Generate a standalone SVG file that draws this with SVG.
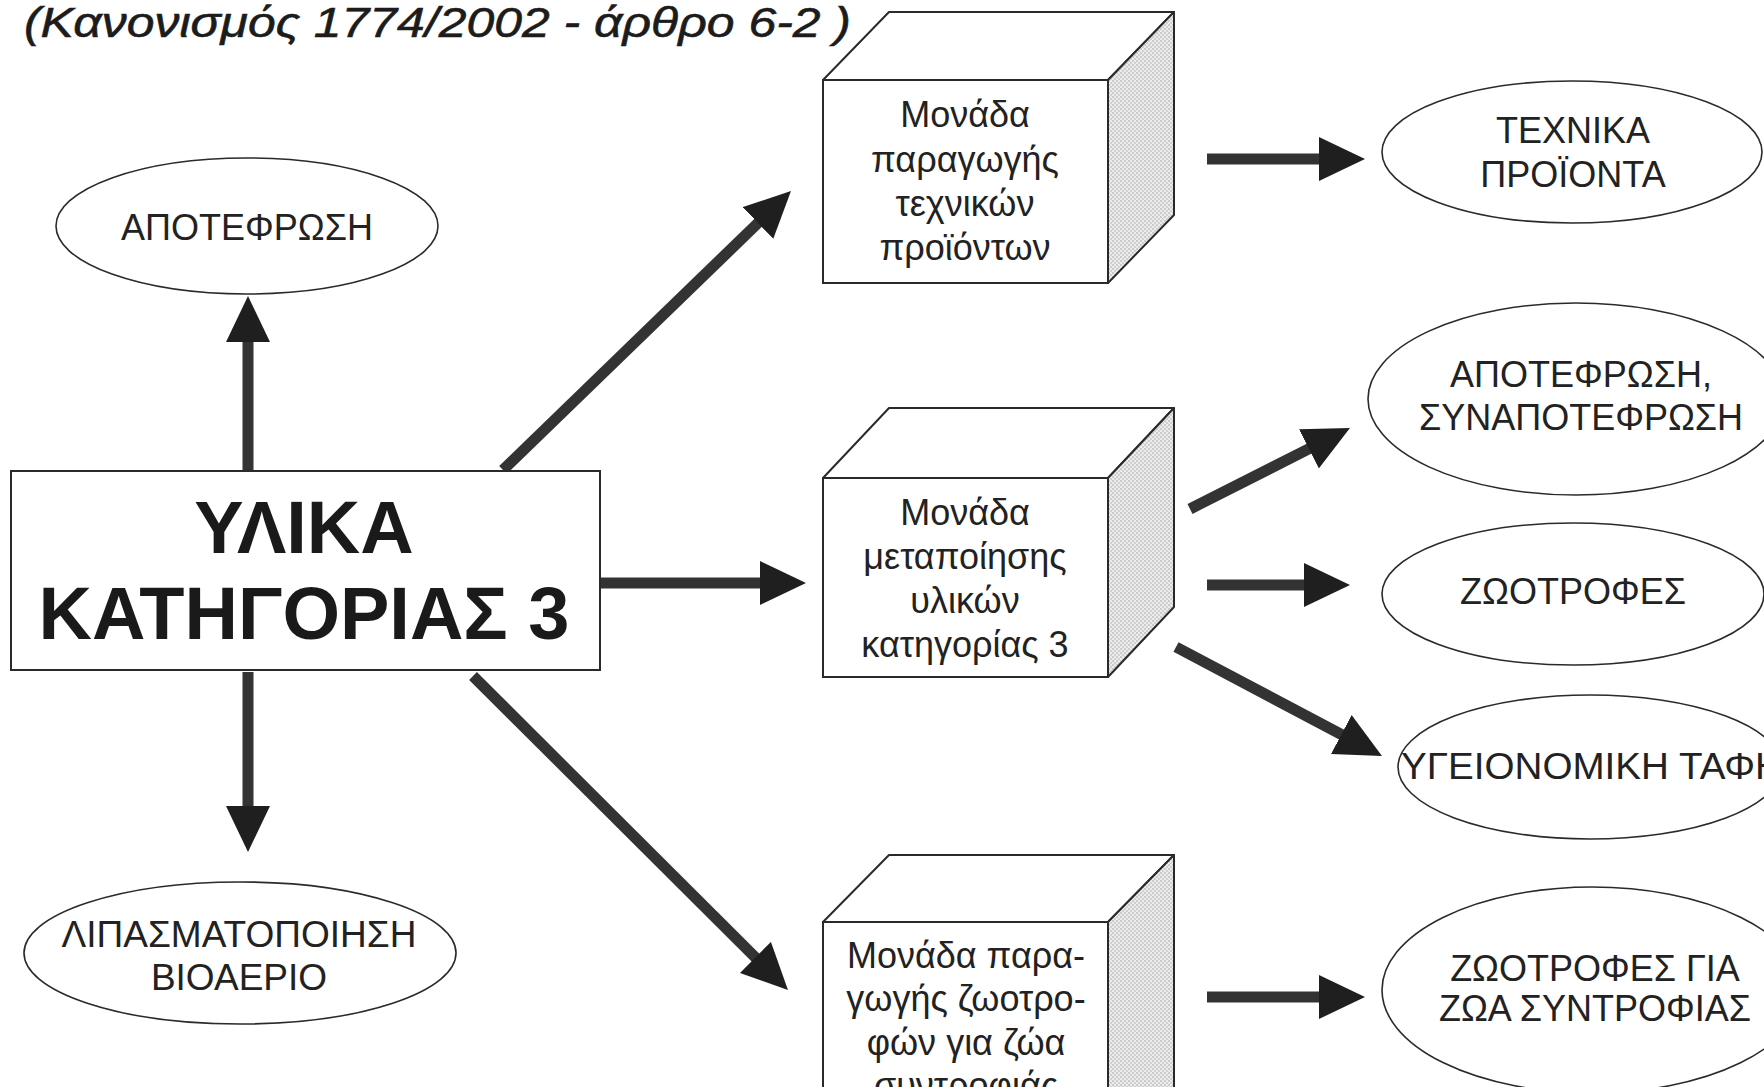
<svg xmlns="http://www.w3.org/2000/svg" width="1764" height="1092" viewBox="0 0 1764 1092">
  <style>
    .title { font-family: "Liberation Sans", Arial, sans-serif; font-style: italic; font-size: 43px; fill: #1c1c1c; stroke: #1c1c1c; stroke-width: 0.6; }
    .main { font-family: "Liberation Sans", Arial, sans-serif; font-weight: bold; font-size: 74px; fill: #1a1a1a; text-anchor: middle; }
    .lbl { font-family: "Liberation Sans", Arial, sans-serif; font-size: 36px; fill: #222; text-anchor: middle; }
    .box { fill: #ffffff; stroke: #2a2a2a; stroke-width: 2; }
    .ell { fill: none; stroke: #2a2a2a; stroke-width: 1.6; }
    .face { fill: #ffffff; stroke: #2a2a2a; stroke-width: 2; stroke-linejoin: round; }
    .side { fill: url(#stipple); stroke: #2a2a2a; stroke-width: 2; stroke-linejoin: round; }
    .shaft { stroke: #333333; stroke-width: 11; fill: none; marker-end: url(#head); }
  </style>
  <defs>
    <pattern id="stipple" width="4" height="4" patternUnits="userSpaceOnUse">
      <rect width="4" height="4" fill="#ececec"/>
      <circle cx="1" cy="1" r="0.75" fill="#9a9a9a"/>
      <circle cx="3" cy="3" r="0.75" fill="#a8a8a8"/>
    </pattern>
    <marker id="head" markerUnits="userSpaceOnUse" viewBox="0 0 46 44" markerWidth="46" markerHeight="44" refX="2" refY="22" orient="auto">
      <path d="M0,0 L46,22 L0,44 Z" fill="#1f1f1f"/>
    </marker>
    <clipPath id="page">
      <rect x="0" y="0" width="1764" height="1087"/>
    </clipPath>
  </defs>

  <rect x="0" y="0" width="1764" height="1092" fill="#ffffff"/>

  <g clip-path="url(#page)">
    <!-- heading -->
    <text class="title" x="24" y="37" textLength="827" lengthAdjust="spacingAndGlyphs">(Κανονισμός 1774/2002 - άρθρο 6-2 )</text>

    <!-- connectors -->
    <g id="connectors">
      <line class="shaft" x1="248" y1="471" x2="248" y2="340"/>
      <line class="shaft" x1="248" y1="672" x2="248" y2="808"/>
      <line class="shaft" x1="503" y1="470" x2="759.4" y2="221.6"/>
      <line class="shaft" x1="601" y1="583" x2="762" y2="583"/>
      <line class="shaft" x1="473" y1="676" x2="756.8" y2="958.9"/>
      <line class="shaft" x1="1207" y1="159" x2="1321" y2="159"/>
      <line class="shaft" x1="1190" y1="509" x2="1310.7" y2="447.9"/>
      <line class="shaft" x1="1207" y1="585" x2="1306" y2="585"/>
      <line class="shaft" x1="1176" y1="647" x2="1343.1" y2="735.4"/>
      <line class="shaft" x1="1207" y1="997" x2="1321" y2="997"/>
    </g>

    <!-- central source box -->
    <g id="materials">
      <rect class="box" x="11" y="471" width="589" height="199"/>
      <text class="main" x="304" y="553">ΥΛΙΚΑ</text>
      <text class="main" x="304" y="639">ΚΑΤΗΓΟΡΙΑΣ 3</text>
    </g>

    <g id="incineration">
      <ellipse class="ell" cx="247" cy="226" rx="191" ry="68"/>
      <text class="lbl" x="247" y="240">ΑΠΟΤΕΦΡΩΣΗ</text>
    </g>

    <g id="composting">
      <ellipse class="ell" cx="240" cy="953" rx="216" ry="71"/>
      <text class="lbl" x="239" y="947" style="font-size:37px">ΛΙΠΑΣΜΑΤΟΠΟΙΗΣΗ</text>
      <text class="lbl" x="239" y="990" style="font-size:37px">ΒΙΟΑΕΡΙΟ</text>
    </g>

    <!-- processing plants -->
    <g id="technical-plant">
      <polygon class="face" points="823,80 889,12 1174,12 1108,80"/>
      <polygon class="side" points="1108,80 1174,12 1174,215 1108,283"/>
      <rect class="box" x="823" y="80" width="285" height="203"/>
      <text class="lbl" x="965" y="127">Μονάδα</text>
      <text class="lbl" x="965" y="172">παραγωγής</text>
      <text class="lbl" x="965" y="216">τεχνικών</text>
      <text class="lbl" x="965" y="260">προϊόντων</text>
    </g>

    <g id="processing-plant">
      <polygon class="face" points="823,478 889,408 1174,408 1108,478"/>
      <polygon class="side" points="1108,478 1174,408 1174,607 1108,677"/>
      <rect class="box" x="823" y="478" width="285" height="199"/>
      <text class="lbl" x="965" y="525">Μονάδα</text>
      <text class="lbl" x="965" y="569">μεταποίησης</text>
      <text class="lbl" x="965" y="613">υλικών</text>
      <text class="lbl" x="965" y="657">κατηγορίας 3</text>
    </g>

    <g id="petfood-plant">
      <polygon class="face" points="823,922 889,855 1174,855 1108,922"/>
      <polygon class="side" points="1108,922 1174,855 1174,1120 1108,1140"/>
      <rect class="box" x="823" y="922" width="285" height="220"/>
      <text class="lbl" x="966" y="968">Μονάδα παρα-</text>
      <text class="lbl" x="966" y="1011">γωγής ζωοτρο-</text>
      <text class="lbl" x="966" y="1055">φών για ζώα</text>
      <text class="lbl" x="966" y="1098">συντροφιάς</text>
    </g>

    <!-- end uses -->
    <g id="technical-products">
      <ellipse class="ell" cx="1572" cy="152" rx="190" ry="71"/>
      <text class="lbl" x="1573" y="143">ΤΕΧΝΙΚΑ</text>
      <text class="lbl" x="1573" y="187">ΠΡΟΪΟΝΤΑ</text>
    </g>

    <g id="co-incineration">
      <ellipse class="ell" cx="1576" cy="399" rx="208" ry="96"/>
      <text class="lbl" x="1581" y="387">ΑΠΟΤΕΦΡΩΣΗ,</text>
      <text class="lbl" x="1581" y="430">ΣΥΝΑΠΟΤΕΦΡΩΣΗ</text>
    </g>

    <g id="feed">
      <ellipse class="ell" cx="1573" cy="594" rx="191" ry="71"/>
      <text class="lbl" x="1573" y="604">ΖΩΟΤΡΟΦΕΣ</text>
    </g>

    <g id="landfill">
      <ellipse class="ell" cx="1590" cy="767" rx="192" ry="72"/>
      <text class="lbl" x="1401" y="779" style="text-anchor:start" textLength="382" lengthAdjust="spacingAndGlyphs">ΥΓΕΙΟΝΟΜΙΚΗ ΤΑΦΗ</text>
    </g>

    <g id="petfood">
      <ellipse class="ell" cx="1592" cy="990" rx="210" ry="103"/>
      <text class="lbl" x="1595" y="981">ΖΩΟΤΡΟΦΕΣ ΓΙΑ</text>
      <text class="lbl" x="1595" y="1021">ΖΩΑ ΣΥΝΤΡΟΦΙΑΣ</text>
    </g>
  </g>
</svg>
